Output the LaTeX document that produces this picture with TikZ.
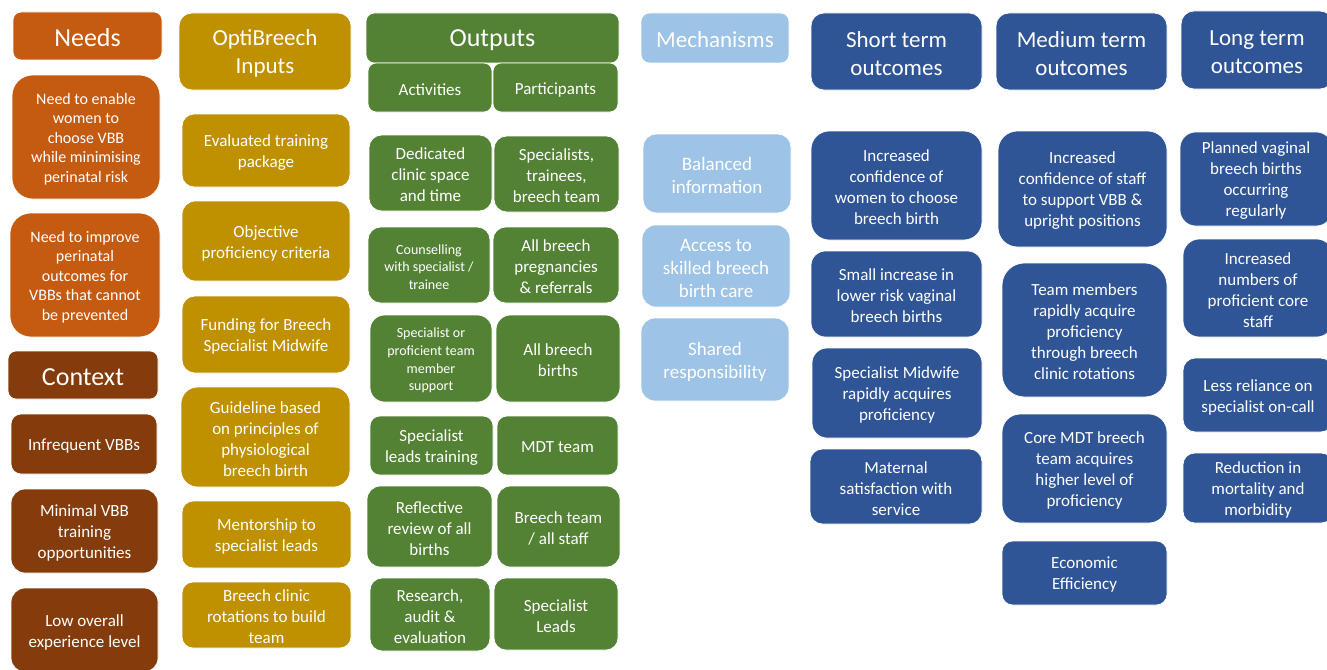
\documentclass[tikz,border=0pt]{standalone}
\usepackage{fontspec}
\setmainfont{Carlito}
\usetikzlibrary{positioning}

\definecolor{needorange}{HTML}{C55A11}
\definecolor{contextbrown}{HTML}{843C0C}
\definecolor{inputgold}{HTML}{BF9000}
\definecolor{outputgreen}{HTML}{548235}
\definecolor{mechblue}{HTML}{9DC3E6}
\definecolor{outcomeblue}{HTML}{2F5597}

\begin{document}
\begin{tikzpicture}[
    x=1pt,
    y=-1pt,
    box/.style={
        draw=white,
        line width=0.75pt,
        fill=#1,
        text=white,
        align=center,
        inner sep=1pt,
        font=\fontsize{17}{21}\selectfont,
        execute at begin node={\vbox\bgroup\vskip4pt\hbox\bgroup},
        execute at end node={\egroup\egroup},
    },
    dims/.style args = {#1/#2}{
        minimum width=#1pt,
        minimum height=#2pt,
        rounded corners={min(#1,#2)/6*1pt},
    },
    bighead/.style={font=\fontsize{26}{31}\selectfont},
    head/.style={font=\fontsize{23}{28}\selectfont},
    needtext/.style={font=\fontsize{16}{19.5}\selectfont},
    smalltext/.style={font=\fontsize{14}{17.7}\selectfont},
    mechtext/.style={font=\fontsize{19}{23}\selectfont},
]
    \clip (0,0) rectangle (1327,669);

    \node[box=needorange, dims=149/48, bighead] (needs) at (87.5,36) {Needs};
    \node[box=needorange, dims=148/124, needtext] (need1) at (86,137) {Need to enable\\women to\\choose VBB\\while minimising\\perinatal risk};
    \node[box=needorange, dims=150/124, needtext] (need2) at (85,275) {Need to improve\\perinatal\\outcomes for\\VBBs that cannot\\be prevented};
    \node[box=contextbrown, dims=150/48, bighead] (context) at (83,375) {Context};
    \node[box=contextbrown, dims=146/60] (ctx1) at (84,444) {Infrequent VBBs};
    \node[box=contextbrown, dims=147/84] (ctx2) at (84.5,531) {Minimal VBB\\training\\opportunities};
    \node[box=contextbrown, dims=147/84] (ctx3) at (84.5,630) {Low overall\\experience level};

    \node[box=inputgold, dims=172/77, head] (inputs) at (265,51.5) {OptiBreech\\Inputs};
    \node[box=inputgold, dims=168/73] (in1) at (266,150.5) {Evaluated training\\package};
    \node[box=inputgold, dims=168/80] (in2) at (266,241) {Objective\\proficiency criteria};
    \node[box=inputgold, dims=168/77] (in3) at (266,334.5) {Funding for Breech\\Specialist Midwife};
    \node[box=inputgold, dims=169/100] (in4) at (265.5,437) {Guideline based\\on principles of\\physiological\\breech birth};
    \node[box=inputgold, dims=169/67] (in5) at (266.5,534.5) {Mentorship to\\specialist leads};
    \node[box=inputgold, dims=169/66] (in6) at (266.5,615) {Breech clinic\\rotations to build\\team};

    \node[box=outputgreen, dims=253/50, bighead] (outputs) at (492.5,38) {Outputs};
    \node[box=outputgreen, dims=124/49] (act) at (430,87.5) {Activities};
    \node[box=outputgreen, dims=125/49] (part) at (555.5,87.5) {Participants};
    \node[box=outputgreen, dims=123/76] (act1) at (430.5,173) {Dedicated\\clinic space\\and time};
    \node[box=outputgreen, dims=125/76] (part1) at (556.5,174) {Specialists,\\trainees,\\breech team};
    \node[box=outputgreen, dims=122/76, smalltext] (act2) at (429,265) {Counselling\\with specialist /\\trainee};
    \node[box=outputgreen, dims=126/76] (part2) at (556,265) {All breech\\pregnancies\\\& referrals};
    \node[box=outputgreen, dims=122/87, smalltext] (act3) at (431,358.5) {Specialist or\\proficient team\\member\\support};
    \node[box=outputgreen, dims=124/87] (part3) at (558,358.5) {All breech\\births};
    \node[box=outputgreen, dims=123/59] (act4) at (431.5,445.5) {Specialist\\leads training};
    \node[box=outputgreen, dims=121/59] (part4) at (557.5,445.5) {MDT team};
    \node[box=outputgreen, dims=125/81] (act5) at (429.5,526.5) {Reflective\\review of all\\births};
    \node[box=outputgreen, dims=123/81] (part5) at (558.5,526.5) {Breech team\\/ all staff};
    \node[box=outputgreen, dims=120/73] (act6) at (430,614.5) {Research,\\audit \&\\evaluation};
    \node[box=outputgreen, dims=124/72] (part6) at (556,614) {Specialist\\Leads};

    \node[box=mechblue, dims=148/50, head] (mech) at (715,38) {Mechanisms};
    \node[box=mechblue, dims=148/79, mechtext] (mech1) at (717,173.5) {Balanced\\information};
    \node[box=mechblue, dims=148/82, mechtext] (mech2) at (716,266) {Access to\\skilled breech\\birth care};
    \node[box=mechblue, dims=148/83, mechtext] (mech3) at (715,359.5) {Shared\\responsibility};

    \node[box=outcomeblue, dims=171/77, head] (short) at (896.5,51.5) {Short term\\outcomes};
    \node[box=outcomeblue, dims=171/109] (st1) at (896.5,185.5) {Increased\\confidence of\\women to choose\\breech birth};
    \node[box=outcomeblue, dims=171/86] (st2) at (896.5,294) {Small increase in\\lower risk vaginal\\breech births};
    \node[box=outcomeblue, dims=170/90] (st3) at (897,393) {Specialist Midwife\\rapidly acquires\\proficiency};
    \node[box=outcomeblue, dims=172/75] (st4) at (896,486.5) {Maternal\\satisfaction with\\service};

    \node[box=outcomeblue, dims=171/77, head] (medium) at (1081.5,51.5) {Medium term\\outcomes};
    \node[box=outcomeblue, dims=169/116] (mt1) at (1082.5,189) {Increased\\confidence of staff\\to support VBB \&\\upright positions};
    \node[box=outcomeblue, dims=165/134] (mt2) at (1084.5,330) {Team members\\rapidly acquire\\proficiency\\through breech\\clinic rotations};
    \node[box=outcomeblue, dims=165/109] (mt3) at (1084.5,468.5) {Core MDT breech\\team acquires\\higher level of\\proficiency};
    \node[box=outcomeblue, dims=165/64] (mt4) at (1084.5,573) {Economic\\Efficiency};

    \node[box=outcomeblue, dims=152/78, head] (long) at (1257,50) {Long term\\outcomes};
    \node[box=outcomeblue, dims=152/94] (lt1) at (1256,179) {Planned vaginal\\breech births\\occurring\\regularly};
    \node[box=outcomeblue, dims=150/98] (lt2) at (1258,288) {Increased\\numbers of\\proficient core\\staff};
    \node[box=outcomeblue, dims=150/74] (lt3) at (1258,395) {Less reliance on\\specialist on-call};
    \node[box=outcomeblue, dims=150/70] (lt4) at (1258,488) {Reduction in\\mortality and\\morbidity};

\end{tikzpicture}
\end{document}
